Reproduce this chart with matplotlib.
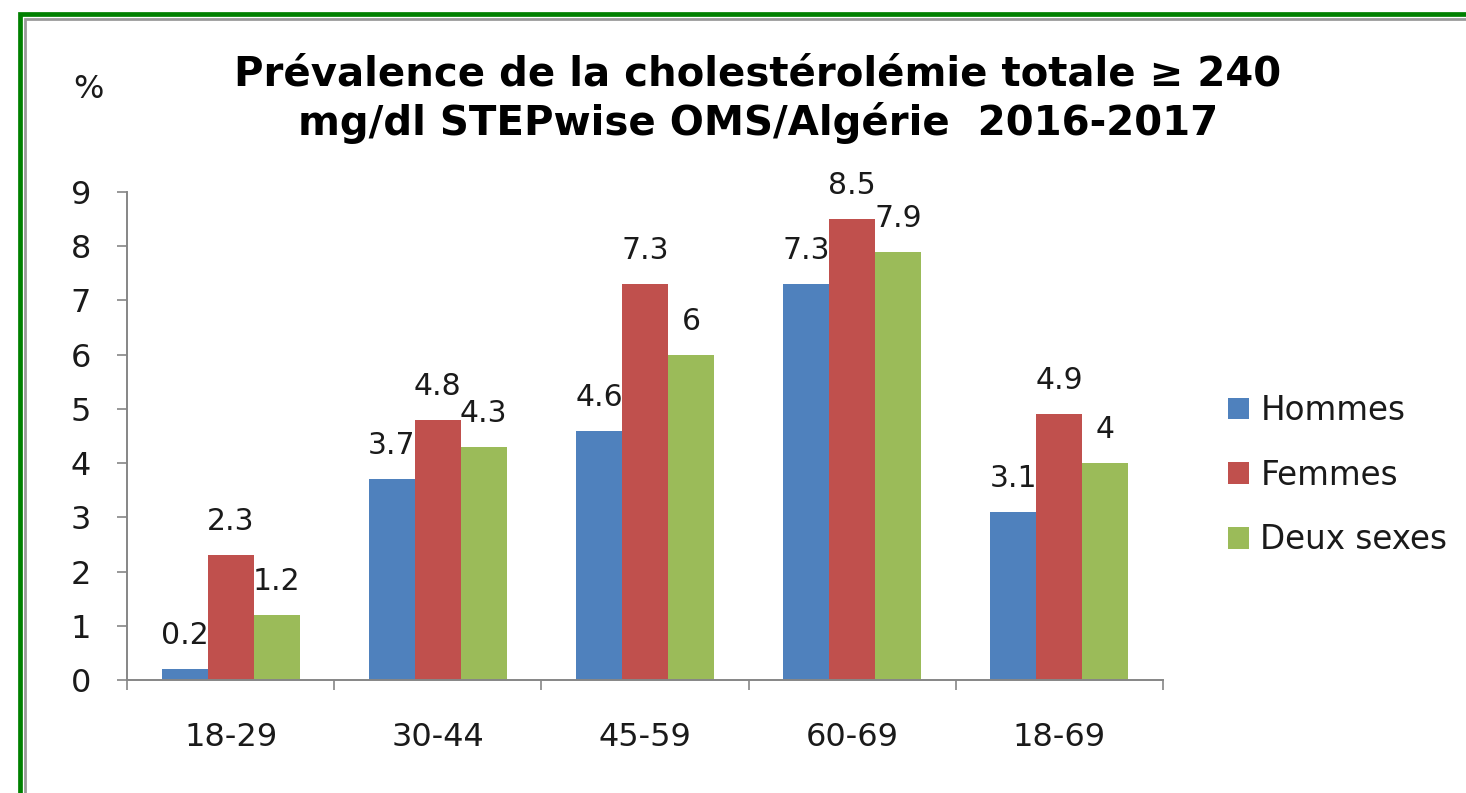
import matplotlib
matplotlib.use("Agg")
import matplotlib.pyplot as plt
from matplotlib.patches import Rectangle
import numpy as np

categories = ["18-29", "30-44", "45-59", "60-69", "18-69"]
hommes = [0.2, 3.7, 4.6, 7.3, 3.1]
femmes = [2.3, 4.8, 7.3, 8.5, 4.9]
deux_sexes = [1.2, 4.3, 6, 7.9, 4]
series_names = ["Hommes", "Femmes", "Deux sexes"]
colors = ["#4F81BD", "#C0504D", "#9BBB59"]
title = "Prévalence de la cholestérolémie totale ≥ 240\nmg/dl STEPwise OMS/Algérie  2016-2017"

W, H = 1466, 793
fig = plt.figure(figsize=(W / 100, H / 100), dpi=100)
fig.patch.set_facecolor("white")

# frame border
fig.patches.append(Rectangle((19.5 / W, -0.1), 1.2, (H - 14) / H + 0.1, transform=fig.transFigure,
                             fill=False, edgecolor="#008000", linewidth=3.4, zorder=0))
fig.patches.append(Rectangle((24.5 / W, -0.1), 1.2, (H - 18.5) / H + 0.1, transform=fig.transFigure,
                             fill=False, edgecolor="#9a9a9a", linewidth=2.0, zorder=0))

font = "DejaVu Sans"
txtc = "#1a1a1a"

ax = fig.add_axes([127 / W, 1 - 680 / H, (1163 - 127) / W, (680 - 192) / H])
x = np.arange(len(categories))
bw = 0.222
data = [hommes, femmes, deux_sexes]
for i, (vals, name, c) in enumerate(zip(data, series_names, colors)):
    pos = x + (i - 1) * bw
    ax.bar(pos, vals, width=bw, color=c, label=name, zorder=2)
    for p, v in zip(pos, vals):
        ax.annotate(f"{v:g}", (p, v), xytext=(0, 18), textcoords="offset points",
                    ha="center", va="baseline", fontsize=21.5, family=font, color=txtc, zorder=3)

ax.set_xlim(-0.5, len(categories) - 0.5)
ax.set_ylim(0, 9)
ax.set_yticks(range(0, 10))
ax.set_xticks(np.arange(-0.5, len(categories), 1.0))
ax.set_xticklabels([])
ax.set_xticks(x, minor=True)
ax.set_xticklabels(categories, minor=True, fontsize=23, family=font, color=txtc)
ax.tick_params(axis="x", which="minor", length=0, pad=30)
ax.tick_params(axis="x", which="major", length=7, width=1.2, color="#868686", direction="out")
ax.tick_params(axis="y", length=7, width=1.2, color="#868686", direction="out", pad=19,
               labelsize=23, labelcolor=txtc)
for lbl in ax.get_yticklabels():
    lbl.set_family(font)
for s in ["top", "right"]:
    ax.spines[s].set_visible(False)
for s in ["left", "bottom"]:
    ax.spines[s].set_color("#868686")
    ax.spines[s].set_linewidth(1.4)

fig.text(758 / W, 1 - 99 / H, title, ha="center", va="center", fontsize=29,
         fontweight="bold", family=font, linespacing=1.24, color="black")
fig.text(88 / W, 1 - 89 / H, "%", ha="center", va="center", fontsize=23, family=font,
         color=txtc)

leg = fig.legend(loc="upper left", bbox_to_anchor=(1228 / W, 1 - 394 / H), frameon=False,
                 prop={"family": font, "size": 23.5}, handlelength=0.64, handleheight=0.64,
                 handletextpad=0.35, labelspacing=0.97, borderaxespad=0, borderpad=0)
for t in leg.get_texts():
    t.set_color(txtc)

fig.savefig("out.png", dpi=100, facecolor="white")
